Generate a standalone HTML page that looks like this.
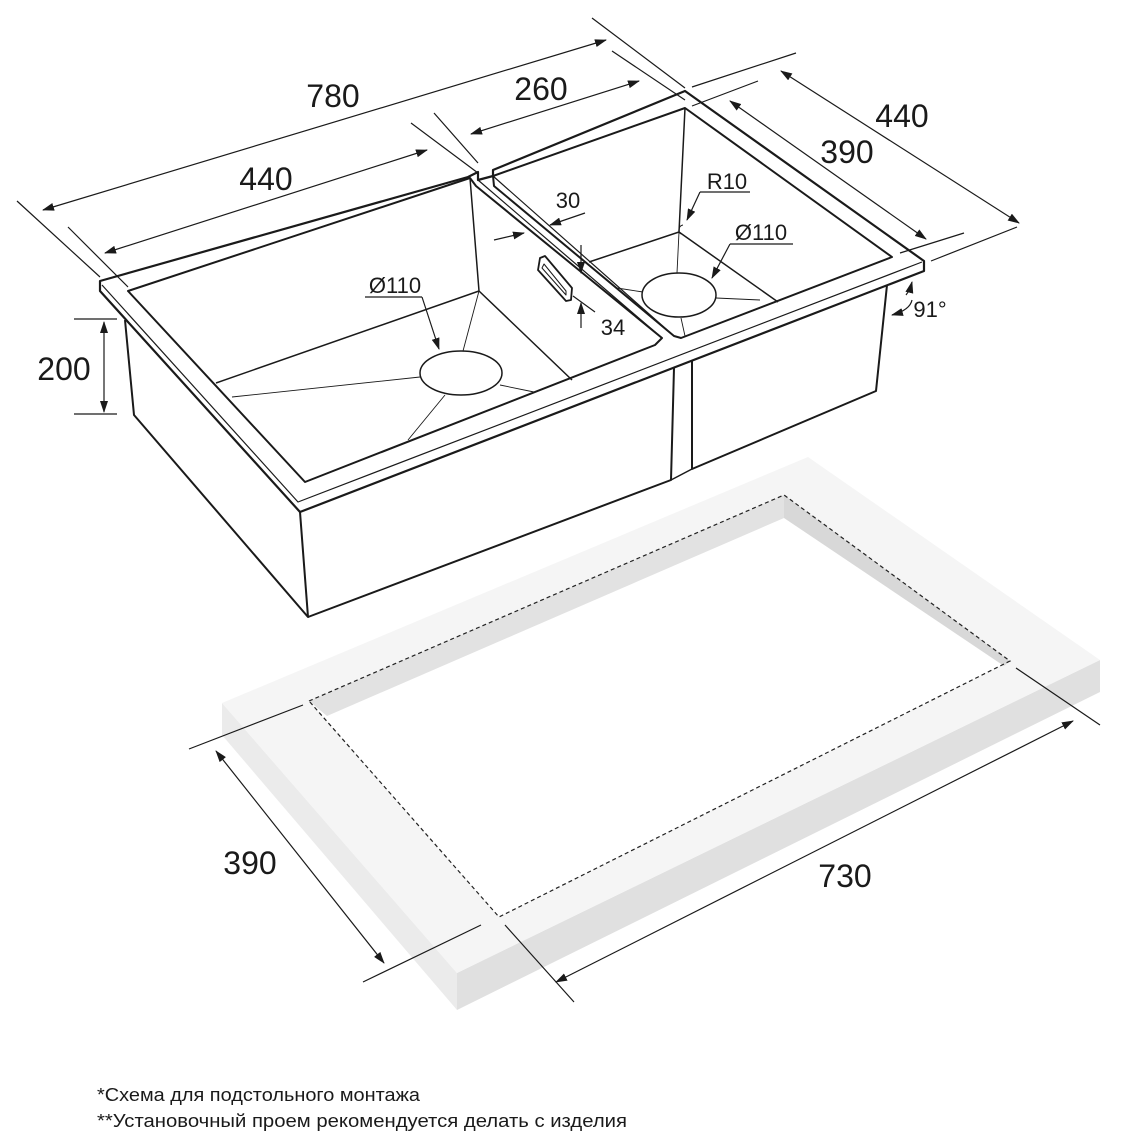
<!DOCTYPE html>
<html><head><meta charset="utf-8"><style>
html,body{margin:0;padding:0;background:#fff;}
svg{display:block;}
text{font-family:"Liberation Sans",sans-serif;fill:#1a1a1a;}
</style></head><body>
<svg width="1123" height="1141" viewBox="0 0 1123 1141" xmlns="http://www.w3.org/2000/svg">
<defs>
<marker id="ar" markerWidth="12" markerHeight="8" refX="11" refY="4" orient="auto-start-reverse" markerUnits="userSpaceOnUse">
<path d="M0,0 L12,4 L0,8 z" fill="#1a1a1a"/></marker>
</defs>

<!-- Countertop slab -->
<polygon points="222,703 222,735 457,1010 457,973" fill="#ebebeb"/>
<polygon points="457,973 457,1010 1100,692 1100,660" fill="#e0e0e0"/>
<polygon points="222,703 808,457 1100,660 457,973" fill="#f5f5f5"/>
<polygon points="309,701 784,495 1010,661 499,917" fill="#ffffff"/>
<polygon points="309,701 784,495 784,518 327,716" fill="#e2e2e2"/>
<polygon points="784,495 1010,661 1004,666 784,518" fill="#d8d8d8"/>
<polyline points="309,701 784,495 1010,661 499,917 309,701" fill="none" stroke="#222" stroke-width="1.2" stroke-dasharray="4,3"/>

<g stroke="#1a1a1a" fill="none" stroke-linejoin="round">
<path d="M125,320 L134,415 L308,617 L300,512" stroke-width="2"/>
<path d="M308,617 L671,480 L674,368" stroke-width="2"/>
<path d="M671,480 L692,469" stroke-width="1.5"/>
<path d="M692,358 L692,469 L876,391 L887,285" stroke-width="2"/>
<path d="M100,281 L468,177 L478,172 L478,180 L493,176 L493,170 L685,91 L924,261 L924,271 L300,512 L100,291 Z" stroke-width="2.2" fill="#fff"/>
<path d="M102,285 L298,502 L922,262" stroke-width="1.2"/>
<path d="M128,291 L470,178 L476,186 L662,338 L655,345 L305,482 Z" stroke-width="2" fill="#fff"/>
<path d="M494,186 L493,176 L685,108 L892,257 L681,338 L674,336 Z" stroke-width="2" fill="#fff"/>
<path d="M478,180 L662,338 M493,176 L674,336" stroke-width="1.2"/>
<path d="M470,178 L479,291 L216,383 M479,291 L572,380" stroke-width="1.5"/>
<g stroke-width="0.9">
<path d="M232,397 L420,377 M463,351 L479,291 M445,395 L408,440 M500,385 L534,392"/>
</g>
<ellipse cx="461" cy="373" rx="41" ry="22" stroke-width="1.5" fill="#fff"/>
<path d="M685,108 L679,232 L589,262 M679,232 L778,302" stroke-width="1.5"/>
<g stroke-width="0.9">
<path d="M677,273 L679,232 M643,292 L617,288 M716,298 L760,300 M681,318 L685,336"/>
</g>
<ellipse cx="679" cy="295" rx="37" ry="22" stroke-width="1.5" fill="#fff"/>
<path d="M540,258 L545,256 L572,288 L571,300 L566,301 L538,270 Z" stroke-width="1.8"/>
<path d="M544,264 L566,291 L566,295 L542,268 Z" stroke-width="1"/>
<path d="M683,225 a5,5 0 0 0 -2,9" stroke-width="1"/>
</g>

<g stroke="#1a1a1a" stroke-width="1.2" fill="none">
<path d="M17,201 L100,277 M592,18 L685,88"/>
<path d="M43,210 L606,40" marker-start="url(#ar)" marker-end="url(#ar)"/>
<path d="M68,227 L128,287 M411,123 L478,173"/>
<path d="M105,253 L427,150" marker-start="url(#ar)" marker-end="url(#ar)"/>
<path d="M434,113 L478,163 M612,51 L685,100"/>
<path d="M471,134 L639,81" marker-start="url(#ar)" marker-end="url(#ar)"/>
<path d="M692,87 L796,53 M931,261 L1017,227"/>
<path d="M781,71 L1019,223" marker-start="url(#ar)" marker-end="url(#ar)"/>
<path d="M692,106 L758,81 M900,253 L964,233"/>
<path d="M730,101 L926,239" marker-start="url(#ar)" marker-end="url(#ar)"/>
<path d="M494,240 L524,233" marker-end="url(#ar)"/>
<path d="M585,213 L550,225" marker-end="url(#ar)"/>
<path d="M581,245 L581,273" marker-end="url(#ar)"/>
<path d="M581,328 L581,303" marker-end="url(#ar)"/>
<path d="M573,296 L595,312"/>
<path d="M700,192 L750,192"/>
<path d="M700,192 L687,220" marker-end="url(#ar)"/>
<path d="M730,244 L793,244"/>
<path d="M730,244 L712,278" marker-end="url(#ar)"/>
<path d="M365,297 L422,297"/>
<path d="M422,297 L439,349" marker-end="url(#ar)"/>
<path d="M74,319 L117,319 M74,414 L117,414"/>
<path d="M104,322 L104,412" marker-start="url(#ar)" marker-end="url(#ar)"/>
<path d="M912,300 Q910,310 892,315" marker-end="url(#ar)"/>
<path d="M906,295 Q910,290 912,282" marker-end="url(#ar)"/>
<path d="M189,749 L303,705 M363,982 L481,925"/>
<path d="M216,751 L384,963" marker-start="url(#ar)" marker-end="url(#ar)"/>
<path d="M505,925 L574,1002 M1016,668 L1100,725"/>
<path d="M556,982 L1073,721" marker-start="url(#ar)" marker-end="url(#ar)"/>
</g>

<g font-size="32">
<text x="333" y="107" text-anchor="middle">780</text>
<text x="266" y="190" text-anchor="middle">440</text>
<text x="541" y="100" text-anchor="middle">260</text>
<text x="902" y="127" text-anchor="middle">440</text>
<text x="847" y="163" text-anchor="middle">390</text>
<text x="64" y="380" text-anchor="middle">200</text>
<text x="250" y="874" text-anchor="middle">390</text>
<text x="845" y="887" text-anchor="middle">730</text>
</g>
<g font-size="22">
<text x="568" y="208" text-anchor="middle">30</text>
<text x="613" y="335" text-anchor="middle">34</text>
<text x="727" y="189" text-anchor="middle">R10</text>
<text x="761" y="240" text-anchor="middle">Ø110</text>
<text x="395" y="293" text-anchor="middle">Ø110</text>
<text x="930" y="317" text-anchor="middle">91°</text>
</g>
<g font-size="18">
<text x="97" y="1101" textLength="323" lengthAdjust="spacingAndGlyphs">*Схема для подстольного монтажа</text>
<text x="97" y="1127" textLength="530" lengthAdjust="spacingAndGlyphs">**Установочный проем рекомендуется делать с изделия</text>
</g>
</svg>
</body></html>
